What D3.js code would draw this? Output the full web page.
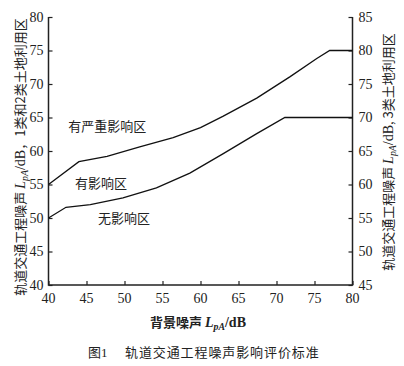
<!DOCTYPE html>
<html><head><meta charset="utf-8">
<script src="https://cdn.jsdelivr.net/npm/d3@7"></script>
<style>
body{margin:0;background:#fff;}
svg{display:block;}
.num{font-family:"Liberation Serif","Times New Roman",serif;font-size:14px;fill:#222;}
.cjk{font-family:"Noto Sans CJK SC",sans-serif;font-size:13px;fill:#222;}
</style>
</head><body>
<svg id="c" width="404" height="366"></svg>
<script>
// Data
const xTicks = [40,45,50,55,60,65,70,75,80];
const yLeftTicks = [40,45,50,55,60,65,70,75,80];
const yRightTicks = [45,50,55,60,65,70,75,80,85];
// upper boundary: 有严重影响区 / 有影响区 (left axis)
const upperX = [40, 44.0, 47.7, 52.0, 56.4, 60.0, 63.0, 67.4, 71.8, 75.3, 77.0, 80];
const upperY = [55, 58.4, 59.2, 60.6, 62.0, 63.5, 65.2, 67.9, 71.1, 73.8, 75.0, 75];
// lower boundary: 有影响区 / 无影响区
const lowerX = [40, 42.3, 45.5, 49.8, 54.2, 58.6, 63.0, 67.4, 71.1, 80];
const lowerY = [50, 51.6, 52.0, 53.0, 54.5, 56.7, 59.6, 62.6, 65.0, 65];
const regionLabels = [
  {text:"有严重影响区", x:42.6, y:63.6},
  {text:"有影响区", x:43.5, y:55.2},
  {text:"无影响区", x:46.5, y:50.0}
];

const svg = d3.select("#c");
const L = 48.5, R = 352.5, T = 17, B = 285;
const x = d3.scaleLinear().domain([40,80]).range([L,R]);
const yL = d3.scaleLinear().domain([40,80]).range([B,T]);
const yR = d3.scaleLinear().domain([45,85]).range([B,T]);

// frame lines
const axCol = "#222";
svg.append("path").attr("d",`M${L},${T}V${B}H${R}V${T}`)
  .attr("fill","none").attr("stroke",axCol).attr("stroke-width",1.5);

// axes (ticks inward)
const gl = svg.append("g").attr("transform",`translate(${L},0)`)
  .call(d3.axisRight(yL).tickValues(yLeftTicks).tickSize(4).tickFormat(""));
const gr = svg.append("g").attr("transform",`translate(${R},0)`)
  .call(d3.axisLeft(yR).tickValues(yRightTicks).tickSize(4).tickFormat(""));
const gb = svg.append("g").attr("transform",`translate(0,${B})`)
  .call(d3.axisTop(x).tickValues(xTicks).tickSize(4).tickFormat(""));
[gl,gr,gb].forEach(g=>{g.select(".domain").remove();g.selectAll("line").attr("stroke",axCol).attr("stroke-width",1.2);});

// tick labels
svg.append("g").selectAll("text").data(yLeftTicks).join("text")
  .attr("class","num").attr("x",L-5).attr("y",d=>yL(d)).attr("dy","0.35em")
  .attr("text-anchor","end").text(d=>d);
svg.append("g").selectAll("text").data(yRightTicks).join("text")
  .attr("class","num").attr("x",R+6).attr("y",d=>yR(d)).attr("dy","0.35em")
  .attr("text-anchor","start").text(d=>d);
svg.append("g").selectAll("text").data(xTicks).join("text")
  .attr("class","num").attr("x",d=>x(d)).attr("y",B+18)
  .attr("text-anchor","middle").text(d=>d);

// curves
const line = d3.line().x(d=>x(d[0])).y(d=>yL(d[1]));
svg.append("path").attr("d",line(d3.zip(upperX,upperY)))
  .attr("fill","none").attr("stroke","#111").attr("stroke-width",1.3);
svg.append("path").attr("d",line(d3.zip(lowerX,lowerY)))
  .attr("fill","none").attr("stroke","#111").attr("stroke-width",1.3);

// region labels
svg.append("g").selectAll("text").data(regionLabels).join("text")
  .attr("class","cjk").attr("x",d=>x(d.x)).attr("y",d=>yL(d.y)).attr("dy","0.35em")
  .text(d=>d.text);

// L_pA helper
function lpa(t, size){
  t.append("tspan").attr("font-family","Liberation Serif").attr("font-style","italic").attr("font-size",size).text("L");
  t.append("tspan").attr("font-family","Liberation Serif").attr("font-style","italic").attr("font-size",size*0.7).attr("dy",3).text("pA");
  t.append("tspan").attr("font-family","Liberation Serif").attr("font-size",size).attr("dy",-3).text("/dB");
}

// x title
const xt = svg.append("text").attr("class","cjk").attr("x",198).attr("y",327)
  .attr("text-anchor","middle").attr("font-weight","bold");
xt.append("tspan").text("背景噪声 ");
lpa(xt,14);

// left y title
const ylt = svg.append("text").attr("class","cjk").attr("text-anchor","middle")
  .attr("transform","translate(25,157) rotate(-90)");
ylt.append("tspan").text("轨道交通工程噪声 ");
lpa(ylt,14);
ylt.append("tspan").text("，1类和2类土地利用区");

// right y title
const yrt = svg.append("text").attr("class","cjk").attr("text-anchor","middle")
  .attr("transform","translate(393,152) rotate(-90)");
yrt.append("tspan").text("轨道交通工程噪声 ");
lpa(yrt,14);
yrt.append("tspan").text(", 3类土地利用区");

// caption
const cap = svg.append("text").attr("class","cjk").attr("x",88).attr("y",357).attr("font-size",13.5);
cap.append("tspan").text("图");
cap.append("tspan").attr("font-family","Liberation Serif").text("1");
cap.append("tspan").attr("x",125).attr("letter-spacing","0.9px").text("轨道交通工程噪声影响评价标准");
</script>
</body></html>
